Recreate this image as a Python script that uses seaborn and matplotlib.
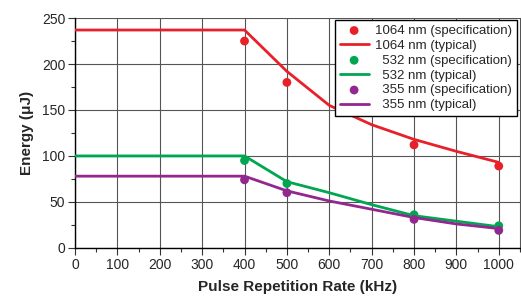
import matplotlib
matplotlib.use("Agg")
import matplotlib.pyplot as plt
import seaborn as sns
import pandas as pd
from matplotlib.ticker import MultipleLocator

# Typical curves
typ_x = [0, 400, 500, 600, 700, 800, 900, 1000]
typ_1064 = [237, 237, 192, 155, 134, 118, 105, 93]
typ_532 = [100, 100, 72, 60, 47, 35, 29, 23]
typ_355 = [78, 78, 62, 51, 42, 33, 26, 21]

# Specification points
spec_x = [400, 500, 800, 1000]
spec_1064 = [225, 180, 112, 89]
spec_532 = [95, 70, 36, 24]
spec_355 = [74, 60, 31, 19]

labels_spec = ["1064 nm (specification)", "  532 nm (specification)", "  355 nm (specification)"]
labels_typ = ["1064 nm (typical)", "  532 nm (typical)", "  355 nm (typical)"]
colors = ["#e8202a", "#00a651", "#92278f"]

sns.set_style("white")
plt.rcParams['font.family'] = ['Liberation Sans', 'DejaVu Sans']

fig = plt.figure(figsize=(5.21, 3.06), dpi=100)
ax = fig.add_axes([0.144, 0.19, 0.854, 0.751])

for ys, yt, ls, lt, c in zip([spec_1064, spec_532, spec_355], [typ_1064, typ_532, typ_355],
                             labels_spec, labels_typ, colors):
    dft = pd.DataFrame({"x": typ_x, "y": yt})
    dfs = pd.DataFrame({"x": spec_x, "y": ys})
    sns.lineplot(data=dft, x="x", y="y", ax=ax, color=c, linewidth=2.0, label=lt, zorder=3)
    sns.scatterplot(data=dfs, x="x", y="y", ax=ax, color=c, s=40, edgecolor="none", label=ls, zorder=4)

ax.set_xlim(0, 1050)
ax.set_ylim(0, 250)
ax.xaxis.set_major_locator(MultipleLocator(100))
ax.xaxis.set_minor_locator(MultipleLocator(50))
ax.yaxis.set_major_locator(MultipleLocator(50))
ax.yaxis.set_minor_locator(MultipleLocator(25))
ax.grid(True, which="major", color="#555555", linewidth=0.8)
ax.set_axisbelow(True)
ax.spines["top"].set_visible(False)
ax.spines["right"].set_color("#555555")
ax.spines["right"].set_linewidth(0.8)
for s in ["left", "bottom"]:
    ax.spines[s].set_color("black")
    ax.spines[s].set_linewidth(1.0)
ax.tick_params(which="major", direction="out", length=5, width=0.8, labelsize=10, color="#333333",
               bottom=True, left=True, pad=2)
ax.tick_params(which="minor", direction="out", length=3, width=0.8, color="#333333", bottom=True, left=True)
ax.set_xlabel("Pulse Repetition Rate (kHz)", fontsize=11, fontweight="bold", labelpad=6)
ax.set_ylabel("Energy (\u03bcJ)", fontsize=11, fontweight="bold", labelpad=6)

h, l = ax.get_legend_handles_labels()
order = []
for ls, lt in zip(labels_spec, labels_typ):
    order.append(l.index(ls))
    order.append(l.index(lt))
leg = ax.legend([h[i] for i in order], [l[i] for i in order], loc="upper right",
                bbox_to_anchor=(0.993, 0.991), fontsize=9.5, frameon=True, fancybox=False,
                edgecolor="black", framealpha=1, handlelength=2.2, labelspacing=0.2,
                borderpad=0.35, handletextpad=0.5, borderaxespad=0)
leg.get_frame().set_linewidth(1.0)

fig.savefig("out.png", dpi=100)
